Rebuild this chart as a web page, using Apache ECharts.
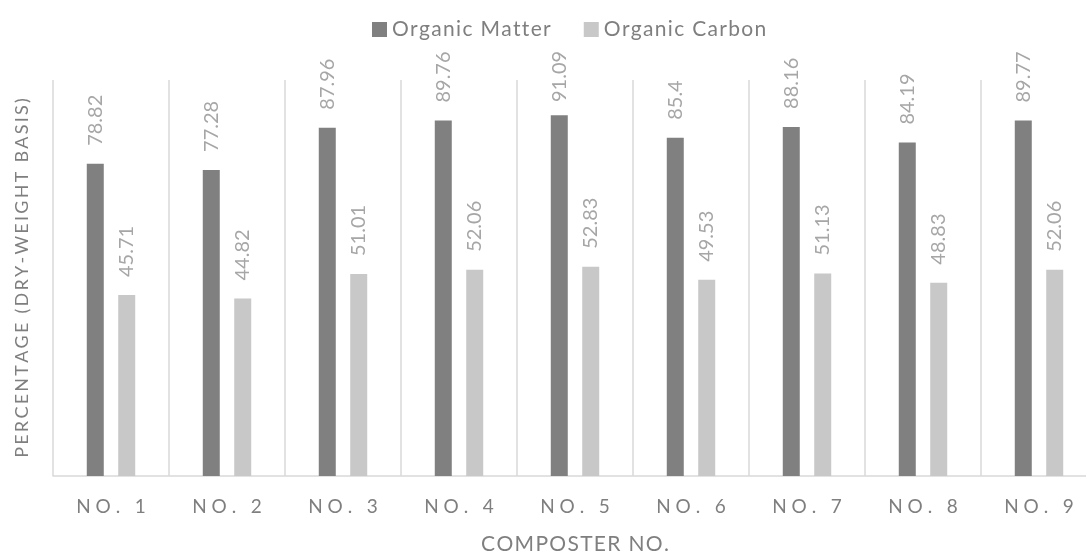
<!DOCTYPE html>
<html>
<head>
<meta charset="utf-8">
<script src="https://cdn.jsdelivr.net/npm/echarts@6/dist/echarts.min.js"></script>
<style>
  html, body { margin: 0; padding: 0; background: #fff; }
  #chart { width: 1086px; height: 555px; }
</style>
</head>
<body>
<div id="chart"></div>
<script>
// Composter categories and measured percentages
const composters = ['NO. 1', 'NO. 2', 'NO. 3', 'NO. 4', 'NO. 5', 'NO. 6', 'NO. 7', 'NO. 8', 'NO. 9'];
const organicMatter = [78.82, 77.28, 87.96, 89.76, 91.09, 85.4, 88.16, 84.19, 89.77];
const organicCarbon = [45.71, 44.82, 51.01, 52.06, 52.83, 49.53, 51.13, 48.83, 52.06];

const FONT = 'Lato, "Open Sans", sans-serif';
const GRID = { left: 53, width: 1044, top: 80, bottom: 79, outerBoundsMode: 'none' };
const PLOT_H = 555 - GRID.top - GRID.bottom;
const Y_MAX = 100;

// widen text a little with narrow spaces between glyphs
const spaced = (s, gap = '\u200A') => s.split('').join(gap);

// value labels sit 18px above their bar, but are nudged down so they stay inside the chart
function labelled(values) {
  return values.map(v => {
    const barTop = GRID.top + PLOT_H * (1 - v / Y_MAX);
    const distance = Math.min(18, barTop - 55 - 47);
    return { value: v, label: { distance } };
  });
}

const labelStyle = {
  show: true,
  position: 'top',
  rotate: 90,
  align: 'left',
  verticalAlign: 'middle',
  distance: 18,
  color: '#a6a6a6',
  fontSize: 20,
  fontFamily: FONT
};

const chart = echarts.init(document.getElementById('chart'), null, { renderer: 'canvas' });
chart.setOption({
  animation: false,
  textStyle: { fontFamily: FONT },
  legend: {
    top: 14,
    left: 367,
    itemWidth: 15,
    itemHeight: 15,
    itemGap: 33,
    icon: 'rect',
    formatter: name => spaced(name),
    textStyle: { color: '#7f7f7f', fontSize: 21, fontFamily: FONT },
    data: ['Organic Matter', 'Organic Carbon']
  },
  grid: GRID,
  xAxis: {
    type: 'category',
    data: composters,
    boundaryGap: true,
    axisLine: { show: true, lineStyle: { color: '#d9d9d9', width: 1.5 } },
    axisTick: { show: false },
    splitLine: { show: true, lineStyle: { color: '#d9d9d9', width: 1.5 } },
    axisLabel: {
      color: '#7f7f7f',
      fontSize: 19,
      fontFamily: FONT,
      margin: 21,
      formatter: v => v.split('').join(' ')
    },
    name: spaced('COMPOSTER NO.'),
    nameLocation: 'middle',
    nameGap: 58,
    nameTextStyle: { color: '#7f7f7f', fontSize: 21, fontFamily: FONT }
  },
  yAxis: {
    type: 'value',
    min: 0,
    max: Y_MAX,
    interval: 20,
    axisLine: { show: false },
    axisTick: { show: false },
    axisLabel: { show: false },
    splitLine: { show: false },
    name: spaced('PERCENTAGE (DRY-WEIGHT BASIS)', '\u2009'),
    nameLocation: 'middle',
    nameGap: 22,
    nameTextStyle: { color: '#7f7f7f', fontSize: 18, fontFamily: FONT }
  },
  series: [
    {
      name: 'Organic Matter',
      type: 'bar',
      data: labelled(organicMatter),
      barWidth: 17,
      barGap: '85%',
      itemStyle: { color: '#808080' },
      label: labelStyle
    },
    {
      name: 'Organic Carbon',
      type: 'bar',
      data: labelled(organicCarbon),
      barWidth: 17,
      itemStyle: { color: '#c8c8c8' },
      label: labelStyle
    }
  ]
});
</script>
</body>
</html>
